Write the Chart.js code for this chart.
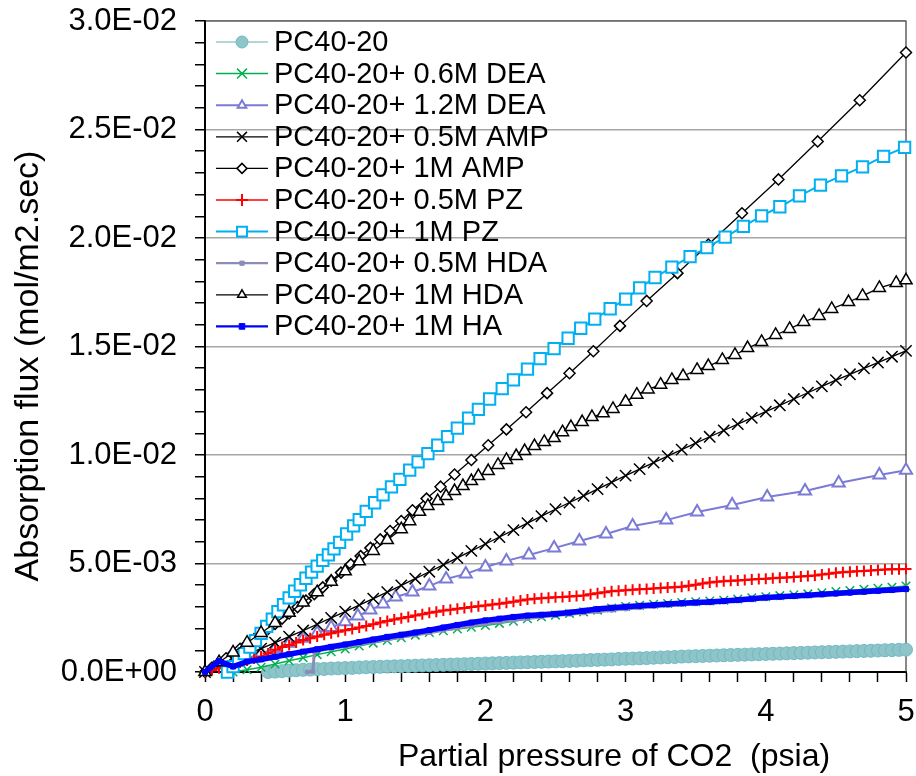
<!DOCTYPE html>
<html>
<head>
<meta charset="utf-8">
<script src="https://cdn.jsdelivr.net/npm/chart.js@4.4.0/dist/chart.umd.min.js"></script>
<style>
  body { margin: 0; background: #fff; }
  canvas { display: block; }
</style>
</head>
<body>
<canvas id="fluxChart" width="916" height="776"></canvas>
<script>
// Partial pressure of CO2 (psia) -------------------------- { x values }
const pressureFine = [
  0.00, 0.05, 0.10, 0.15, 0.20, 0.25, 0.30, 0.35, 0.40, 0.45,
  0.50, 0.55, 0.60, 0.65, 0.70, 0.75, 0.80, 0.85, 0.90, 0.95,
  1.00, 1.05, 1.10, 1.15, 1.20, 1.25, 1.30, 1.35, 1.40, 1.45,
  1.50, 1.55, 1.60, 1.65, 1.70, 1.75, 1.80, 1.85, 1.90, 1.95,
  2.00, 2.05, 2.10, 2.15, 2.20, 2.25, 2.30, 2.35, 2.40, 2.45,
  2.50, 2.55, 2.60, 2.65, 2.70, 2.75, 2.80, 2.85, 2.90, 2.95,
  3.00, 3.05, 3.10, 3.15, 3.20, 3.25, 3.30, 3.35, 3.40, 3.45,
  3.50, 3.55, 3.60, 3.65, 3.70, 3.75, 3.80, 3.85, 3.90, 3.95,
  4.00, 4.05, 4.10, 4.15, 4.20, 4.25, 4.30, 4.35, 4.40, 4.45,
  4.50, 4.55, 4.60, 4.65, 4.70, 4.75, 4.80, 4.85, 4.90, 4.95,
  5.00
];
const pressureCoarse = [
  0.0, 0.1, 0.2, 0.3, 0.4, 0.5, 0.6, 0.7, 0.8, 0.9,
  1.0, 1.1, 1.2, 1.3, 1.4, 1.5, 1.6, 1.7, 1.8, 1.9,
  2.0, 2.1, 2.2, 2.3, 2.4, 2.5, 2.6, 2.7, 2.8, 2.9,
  3.0, 3.1, 3.2, 3.3, 3.4, 3.5, 3.6, 3.7, 3.8, 3.9,
  4.0, 4.1, 4.2, 4.3, 4.4, 4.5, 4.6, 4.7, 4.8, 4.9,
  5.0
];
const pressureDea12 = [0.2, 0.3, 0.4, 0.5, 0.6, 0.7, 0.8, 0.9, 1.0, 1.09, 1.18, 1.27, 1.36, 1.48, 1.60, 1.72, 1.86, 2.00, 2.15, 2.31, 2.49, 2.67, 2.86, 3.05, 3.29, 3.51, 3.76, 4.01, 4.28, 4.52, 4.81, 5.00];
const pressureAmp1 = [0, 0.05, 0.10, 0.15, 0.20, 0.25, 0.30, 0.35, 0.40, 0.45, 0.50, 0.55, 0.60, 0.66, 0.72, 0.78, 0.84, 0.90, 0.97, 1.04, 1.11, 1.18, 1.25, 1.32, 1.40, 1.48, 1.58, 1.68, 1.78, 1.90, 2.02, 2.15, 2.29, 2.44, 2.60, 2.77, 2.96, 3.15, 3.37, 3.59, 3.83, 4.09, 4.37, 4.67, 5.00];
const pressurePz1 = [0.16, 0.20, 0.24, 0.28, 0.32, 0.36, 0.40, 0.44, 0.48, 0.52, 0.56, 0.60, 0.64, 0.68, 0.72, 0.76, 0.80, 0.84, 0.88, 0.92, 0.96, 1.01, 1.06, 1.10, 1.15, 1.21, 1.27, 1.33, 1.39, 1.46, 1.52, 1.59, 1.66, 1.73, 1.80, 1.88, 1.95, 2.03, 2.12, 2.20, 2.30, 2.39, 2.49, 2.59, 2.68, 2.78, 2.89, 3.00, 3.10, 3.21, 3.33, 3.46, 3.58, 3.71, 3.84, 3.97, 4.10, 4.24, 4.39, 4.54, 4.69, 4.84, 4.99];
const pressureHda05 = [0.73, 0.77, 0.78, 0.8, 0.9, 1.0, 1.1, 1.2, 1.3, 1.4, 1.5, 1.6, 1.7, 1.8, 1.9, 2.0, 2.1, 2.2, 2.3, 2.4, 2.5, 2.6, 2.7, 2.8, 2.9, 3.0, 3.1, 3.2, 3.3, 3.4, 3.5, 3.6, 3.7, 3.8, 3.9, 4.0, 4.1, 4.2, 4.3, 4.4, 4.5, 4.6, 4.7, 4.8, 4.9, 5.0];
const pressureHda1 = [0, 0.1, 0.2, 0.3, 0.4, 0.5, 0.6, 0.7, 0.8, 0.9, 1.0, 1.1, 1.2, 1.3, 1.4, 1.46, 1.53, 1.59, 1.66, 1.72, 1.78, 1.84, 1.90, 1.95, 2.02, 2.09, 2.15, 2.22, 2.28, 2.35, 2.42, 2.49, 2.55, 2.61, 2.69, 2.76, 2.84, 2.91, 3.00, 3.08, 3.16, 3.25, 3.33, 3.41, 3.51, 3.59, 3.69, 3.78, 3.87, 3.97, 4.07, 4.17, 4.27, 4.38, 4.47, 4.59, 4.69, 4.81, 4.93, 5.00];

// Absorption flux, in units of 1E-03 mol/m2.sec ----------- { y values }
const fluxPC = [
  null, null, null, null, null, null, null, null, null, 0.00,
  0.02, 0.04, 0.06, 0.08, 0.10, 0.11, 0.13, 0.14, 0.16, 0.17,
  0.18, 0.19, 0.21, 0.22, 0.23, 0.24, 0.25, 0.26, 0.27, 0.28,
  0.29, 0.30, 0.31, 0.32, 0.33, 0.34, 0.35, 0.36, 0.37, 0.38,
  0.39, 0.40, 0.41, 0.42, 0.43, 0.44, 0.45, 0.46, 0.47, 0.48,
  0.49, 0.50, 0.51, 0.52, 0.54, 0.55, 0.56, 0.57, 0.58, 0.60,
  0.61, 0.62, 0.63, 0.64, 0.66, 0.67, 0.68, 0.69, 0.71, 0.72,
  0.73, 0.74, 0.75, 0.76, 0.77, 0.78, 0.79, 0.80, 0.81, 0.82,
  0.83, 0.84, 0.85, 0.86, 0.87, 0.88, 0.89, 0.90, 0.91, 0.92,
  0.93, 0.94, 0.95, 0.96, 0.97, 0.98, 0.99, 1.00, 1.01, 1.02,
  1.03
];
const fluxDea06 = [
  null, null, 0.00, 0.10, 0.22, 0.37, 0.52, 0.66, 0.80, 0.93,
  1.06, 1.20, 1.33, 1.45, 1.58, 1.70, 1.82, 1.90, 1.98, 2.06,
  2.14, 2.24, 2.34, 2.45, 2.55, 2.62, 2.70, 2.77, 2.85, 2.95,
  3.02, 3.07, 3.12, 3.16, 3.20, 3.24, 3.27, 3.31, 3.36, 3.42,
  3.47, 3.52, 3.56, 3.60, 3.65, 3.71, 3.76, 3.81, 3.86, 3.91,
  3.96
];
const fluxDea12 = [0.40, 0.62, 0.85, 1.08, 1.32, 1.56, 1.80, 2.05, 2.32, 2.58, 2.86, 3.13, 3.46, 3.69, 3.96, 4.29, 4.52, 4.84, 5.12, 5.39, 5.71, 6.04, 6.36, 6.73, 7.00, 7.37, 7.70, 8.06, 8.34, 8.71, 9.08, 9.30];
const fluxAmp05 = [
  0.00, 0.27, 0.54, 0.81, 1.08, 1.35, 1.63, 1.91, 2.20, 2.49,
  2.78, 3.08, 3.38, 3.68, 3.99, 4.30, 4.62, 4.94, 5.26, 5.58,
  5.90, 6.22, 6.54, 6.86, 7.18, 7.50, 7.81, 8.12, 8.43, 8.74,
  9.05, 9.35, 9.65, 9.95, 10.25, 10.55, 10.84, 11.13, 11.42, 11.71,
  12.00, 12.29, 12.58, 12.87, 13.16, 13.45, 13.72, 13.99, 14.26, 14.53,
  14.80
];
const fluxAmp1 = [0, 0.21, 0.42, 0.63, 0.85, 1.07, 1.29, 1.52, 1.75, 1.98, 2.22, 2.46, 2.70, 2.99, 3.29, 3.59, 3.90, 4.21, 4.58, 4.96, 5.34, 5.72, 6.11, 6.50, 6.96, 7.45, 7.99, 8.54, 9.10, 9.77, 10.45, 11.18, 11.97, 12.85, 13.77, 14.78, 15.95, 17.10, 18.38, 19.70, 21.14, 22.70, 24.45, 26.35, 28.55];
const fluxPz05 = [
  0.00, 0.08, 0.17, 0.26, 0.35, 0.44, 0.53, 0.62, 0.72, 0.85,
  1.02, 1.15, 1.25, 1.36, 1.48, 1.56, 1.64, 1.72, 1.79, 1.86,
  1.92, 1.98, 2.05, 2.12, 2.20, 2.28, 2.35, 2.42, 2.48, 2.54,
  2.60, 2.66, 2.73, 2.78, 2.83, 2.87, 2.91, 2.95, 2.99, 3.03,
  3.07, 3.11, 3.15, 3.19, 3.24, 3.29, 3.34, 3.37, 3.40, 3.42,
  3.44, 3.46, 3.48, 3.50, 3.53, 3.58, 3.63, 3.68, 3.72, 3.75,
  3.77, 3.79, 3.81, 3.83, 3.85, 3.87, 3.89, 3.91, 3.93, 3.97,
  4.02, 4.08, 4.13, 4.16, 4.18, 4.20, 4.22, 4.24, 4.26, 4.28,
  4.30, 4.32, 4.34, 4.36, 4.38, 4.40, 4.42, 4.45, 4.49, 4.53,
  4.57, 4.60, 4.62, 4.64, 4.66, 4.68, 4.70, 4.72, 4.73, 4.74,
  4.75
];
const fluxPz1 = [0.00, 0.25, 0.55, 0.85, 1.15, 1.45, 1.78, 2.10, 2.44, 2.78, 3.10, 3.42, 3.72, 4.02, 4.32, 4.60, 4.88, 5.14, 5.40, 5.67, 5.97, 6.36, 6.73, 7.02, 7.40, 7.80, 8.16, 8.53, 8.88, 9.30, 9.68, 10.06, 10.45, 10.85, 11.24, 11.70, 12.10, 12.58, 13.06, 13.46, 13.96, 14.44, 14.90, 15.38, 15.84, 16.26, 16.74, 17.18, 17.70, 18.18, 18.66, 19.14, 19.56, 20.04, 20.54, 21.02, 21.44, 21.94, 22.44, 22.86, 23.28, 23.76, 24.18];
const fluxHda05 = [0.00, 0.02, 0.95, 0.98, 1.08, 1.18, 1.28, 1.39, 1.50, 1.60, 1.70, 1.81, 1.92, 2.03, 2.13, 2.22, 2.30, 2.38, 2.46, 2.53, 2.60, 2.66, 2.72, 2.78, 2.84, 2.90, 2.96, 3.01, 3.06, 3.10, 3.14, 3.18, 3.22, 3.27, 3.32, 3.37, 3.42, 3.46, 3.50, 3.54, 3.58, 3.62, 3.66, 3.70, 3.74, 3.78];
const fluxHda1 = [0, 0.45, 0.90, 1.35, 1.80, 2.26, 2.73, 3.20, 3.68, 4.16, 4.64, 5.10, 5.58, 6.08, 6.58, 6.95, 7.38, 7.65, 7.88, 8.11, 8.34, 8.57, 8.80, 9.03, 9.26, 9.54, 9.77, 9.95, 10.18, 10.41, 10.60, 10.78, 11.05, 11.29, 11.52, 11.75, 11.92, 12.12, 12.45, 12.78, 13.02, 13.24, 13.46, 13.64, 13.92, 14.10, 14.38, 14.61, 14.93, 15.21, 15.53, 15.81, 16.13, 16.41, 16.73, 17.05, 17.33, 17.70, 17.93, 18.05];
const fluxHa1 = [
  0.00, 0.50, 0.25, 0.48, 0.58, 0.70, 0.82, 0.94, 1.05, 1.16,
  1.27, 1.38, 1.50, 1.62, 1.72, 1.82, 1.93, 2.05, 2.17, 2.28,
  2.38, 2.46, 2.54, 2.60, 2.64, 2.68, 2.74, 2.82, 2.90, 2.96,
  3.01, 3.05, 3.09, 3.13, 3.17, 3.20, 3.23, 3.27, 3.32, 3.38,
  3.43, 3.47, 3.50, 3.54, 3.58, 3.62, 3.66, 3.70, 3.74, 3.78,
  3.82
];

const yTickLabels = ["0.0E+00", "5.0E-03", "1.0E-02", "1.5E-02", "2.0E-02", "2.5E-02", "3.0E-02"];
const FONT = '"Liberation Sans", Arial, sans-serif';

// pair x and y lists, skip empty cells
function pts(xs, ys) {
  const out = [];
  xs.forEach((x, i) => {
    if (ys[i] !== null && ys[i] !== undefined) out.push({ x: x, y: ys[i] });
  });
  return out;
}

function series(label, xs, ys, s) {
  return Object.assign({
    label: label,
    data: pts(xs, ys),
    showLine: true,
    tension: 0,
    fill: false,
    clip: false,
  }, s);
}

const datasets = [
  series("PC40-20", pressureFine, fluxPC, {
    borderColor: "#9CC7CB", borderWidth: 1.5, pointStyle: "circle", pointRadius: 6.5,
    pointBackgroundColor: "#8FC4C9", pointBorderColor: "#6DBAC3", pointBorderWidth: 1, legendRadius: 6,
  }),
  series("PC40-20+ 0.6M DEA", pressureCoarse, fluxDea06, {
    borderColor: "#00B050", borderWidth: 1.5, pointStyle: "crossRot", pointRadius: 6,
    pointBackgroundColor: "#00B050", pointBorderColor: "#00B050", pointBorderWidth: 1.5, legendRadius: 7,
  }),
  series("PC40-20+ 1.2M DEA", pressureDea12, fluxDea12, {
    borderColor: "#7B7BD6", borderWidth: 2, pointStyle: "triangle", pointRadius: 7,
    pointBackgroundColor: "#FFFFFF", pointBorderColor: "#7B7BD6", pointBorderWidth: 2, legendRadius: 5,
  }),
  series("PC40-20+ 0.5M AMP", pressureCoarse, fluxAmp05, {
    borderColor: "#000000", borderWidth: 1.3, pointStyle: "crossRot", pointRadius: 8,
    pointBackgroundColor: "#000000", pointBorderColor: "#000000", pointBorderWidth: 1.5, legendRadius: 7,
  }),
  series("PC40-20+ 1M AMP", pressureAmp1, fluxAmp1, {
    borderColor: "#000000", borderWidth: 1.3, pointStyle: "rectRot", pointRadius: 5.5,
    pointBackgroundColor: "#FFFFFF", pointBorderColor: "#000000", pointBorderWidth: 1.5, legendRadius: 5,
  }),
  series("PC40-20+ 0.5M PZ", pressureFine, fluxPz05, {
    borderColor: "#FF0000", borderWidth: 1.5, pointStyle: "cross", pointRadius: 5.5,
    pointBackgroundColor: "#FF0000", pointBorderColor: "#FF0000", pointBorderWidth: 2, legendRadius: 6,
  }),
  series("PC40-20+ 1M PZ", pressurePz1, fluxPz1, {
    borderColor: "#00B0F0", borderWidth: 2, pointStyle: "rect", pointRadius: 8,
    pointBackgroundColor: "#FFFFFF", pointBorderColor: "#00B0F0", pointBorderWidth: 2, legendRadius: 7,
  }),
  series("PC40-20+ 0.5M HDA", pressureHda05, fluxHda05, {
    borderColor: "#8C8CB8", borderWidth: 3, pointStyle: "rect", pointRadius: 2.5,
    pointBackgroundColor: "#8C8CB8", pointBorderColor: "#8C8CB8", pointBorderWidth: 1, legendRadius: 3,
  }),
  series("PC40-20+ 1M HDA", pressureHda1, fluxHda1, {
    borderColor: "#000000", borderWidth: 1.3, pointStyle: "triangle", pointRadius: 7,
    pointBackgroundColor: "#FFFFFF", pointBorderColor: "#000000", pointBorderWidth: 1.5, legendRadius: 5,
  }),
  series("PC40-20+ 1M HA", pressureCoarse, fluxHa1, {
    borderColor: "#0000FF", borderWidth: 5.5, pointStyle: "rect", pointRadius: 3.5,
    pointBackgroundColor: "#0000FF", pointBorderColor: "#0000FF", pointBorderWidth: 1, legendRadius: 4,
  }),
];
// Excel order: first series at the bottom
datasets.forEach((d, i) => { d.order = datasets.length - i; });

// Frame, axis titles, legend ----------------------------- { plugin }
const decorPlugin = {
  id: "decor",
  beforeDatasetsDraw(chart) {
    const { ctx, chartArea: a } = chart;
    ctx.save();
    ctx.strokeStyle = "#3A3A3A";
    ctx.lineWidth = 1.2;
    ctx.beginPath();
    ctx.moveTo(a.left, a.top);
    ctx.lineTo(a.right, a.top);
    ctx.lineTo(a.right, a.bottom);
    ctx.stroke();
    ctx.restore();
  },
  afterDatasetsDraw(chart) {
    const { ctx, chartArea: a } = chart;
    chart.data.datasets.forEach((ds, i) => {
      const y = 42 + i * 31.6;
      const lx = a.left + 11;
      ctx.save();
      ctx.strokeStyle = ds.borderColor;
      ctx.lineWidth = Math.min(ds.borderWidth, 2.2);
      ctx.beginPath();
      ctx.moveTo(lx, y);
      ctx.lineTo(lx + 52, y);
      ctx.stroke();
      ctx.fillStyle = ds.pointBackgroundColor;
      ctx.strokeStyle = ds.pointBorderColor;
      ctx.lineWidth = ds.pointBorderWidth;
      Chart.helpers.drawPoint(ctx, {
        pointStyle: ds.pointStyle, radius: ds.legendRadius, borderWidth: ds.pointBorderWidth, rotation: 0,
      }, lx + 26, y);
      ctx.fillStyle = "#000";
      ctx.font = "29px " + FONT;
      ctx.textBaseline = "middle";
      ctx.textAlign = "left";
      ctx.fillText(ds.label, lx + 58, y + 1);
      ctx.restore();
    });
  },
  afterDraw(chart) {
    const ctx = chart.ctx;
    ctx.save();
    ctx.fillStyle = "#000";
    ctx.textAlign = "center";
    ctx.textBaseline = "middle";
    ctx.font = "32px " + FONT;
    ctx.fillText("Partial pressure of CO2  (psia)", 614, 757);
    ctx.translate(29, 366);
    ctx.rotate(-Math.PI / 2);
    ctx.font = "34px " + FONT;
    ctx.fillText("Absorption flux (mol/m2.sec)", 0, 0);
    ctx.restore();
  },
};

const tickFont = { family: FONT, size: 31 };

new Chart(document.getElementById("fluxChart").getContext("2d"), {
  type: "scatter",
  data: { datasets: datasets },
  options: {
    responsive: false,
    animation: false,
    devicePixelRatio: 1,
    layout: { padding: { left: 0, right: 9, top: 21, bottom: 0 } },
    scales: {
      x: {
        type: "linear",
        min: 0,
        max: 5,
        afterFit: (s) => { s.height = 104; s.paddingLeft = 0; s.paddingRight = 0; },
        border: { color: "#000", width: 2 },
        grid: { drawOnChartArea: false, tickLength: 10, tickColor: "#000", tickWidth: 1.5 },
        ticks: {
          stepSize: 0.2,
          autoSkip: false,
          maxRotation: 0,
          padding: 12,
          color: "#000",
          font: tickFont,
          callback: (v) => (Math.abs(v - Math.round(v)) < 1e-6 ? String(Math.round(v)) : ""),
        },
      },
      y: {
        type: "linear",
        min: 0,
        max: 30,
        afterFit: (s) => { s.width = 205; s.paddingTop = 0; s.paddingBottom = 0; },
        border: { color: "#000", width: 2 },
        grid: {
          color: (c) => (c.tick && c.tick.value % 5 === 0 ? "#A6A6A6" : "rgba(0,0,0,0)"),
          lineWidth: 1.5,
          tickLength: 10,
          tickColor: "#000",
          tickWidth: 1.5,
        },
        ticks: {
          stepSize: 1,
          autoSkip: false,
          padding: 18,
          color: "#000",
          font: tickFont,
          callback: (v) => (v % 5 === 0 ? yTickLabels[v / 5] : ""),
        },
      },
    },
    plugins: {
      legend: { display: false },
      tooltip: { enabled: false },
    },
  },
  plugins: [decorPlugin],
});
</script>
</body>
</html>
